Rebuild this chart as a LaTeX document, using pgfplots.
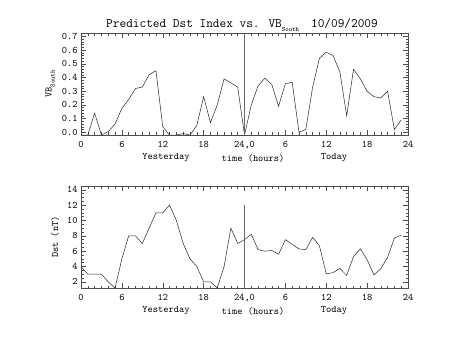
\documentclass[border=0pt]{standalone}
\usepackage{pgfplots}
\pgfplotsset{compat=1.18}

\pgfplotstableread{
x y
0 -0.02
1 -0.02
2 0.14
3 -0.02
4 0.005
5 0.06
6 0.175
7 0.24
8 0.32
9 0.33
10 0.42
11 0.45
12 0.04
13 -0.02
14 -0.02
15 -0.01
16 -0.02
17 0.05
18 0.26
19 0.07
20 0.2
21 0.39
22 0.36
23 0.33
24 -0.02
25 0.2
26 0.34
27 0.395
28 0.35
29 0.19
30 0.355
31 0.365
32 0.0
33 0.02
34 0.33
35 0.54
36 0.585
37 0.56
38 0.44
39 0.12
40 0.46
41 0.39
42 0.3
43 0.26
44 0.25
45 0.3
46 0.02
47 0.09
}\vbtable

\pgfplotstableread{
x y
0 4
1 3
2 3
3 3
4 2
5 1.2
6 5
7 8
8 8
9 7
10 9
11 11
12 11
13 12
14 10
15 7
16 5
17 4
18 2
19 2
20 1.2
21 4
22 9
23 7
24 7.5
25 8.2
26 6.2
27 6
28 6.1
29 5.6
30 7.5
31 6.9
32 6.3
33 6.2
34 7.8
35 6.7
36 3.05
37 3.2
38 3.75
39 2.85
40 5.3
41 6.3
42 4.9
43 2.9
44 3.7
45 5.2
46 7.7
47 8.1
}\dsttable

\newcommand{\lab}{\ttfamily\fontsize{10}{12}\selectfont}
\newcommand{\sub}[1]{\raisebox{-0.7ex}{\ttfamily\fontsize{6.5}{7}\selectfont #1}}

\pgfplotsset{
  idl/.style={
    scale only axis, width=327bp, height=102bp,
    anchor=south west,
    xmin=0, xmax=48,
    xtick={0,6,12,18,24,30,36,42,48},
    xticklabels={0,6,12,18,{24,0},6,12,18,24},
    minor x tick num=5,
    tick align=inside,
    major tick length=5bp, minor tick length=2.5bp,
    axis line style={black!70, line width=0.5pt},
    every tick/.style={black!70, line width=0.4pt},
    ticklabel style={font=\lab},
    xticklabel style={yshift=-2.5bp},
    /pgf/number format/assume math mode=true,
    xtick pos=both, ytick pos=both,
    xticklabel pos=lower, yticklabel pos=left,
  }
}

\begin{document}
\begin{tikzpicture}[x=1bp,y=1bp]
\useasboundingbox (0,0) rectangle (453,340);

\begin{axis}[idl, at={(81bp,205bp)},
  ymin=-0.02, ymax=0.725,
  ytick={0,0.1,0.2,0.3,0.4,0.5,0.6,0.7},
  minor y tick num=4,
  yticklabel style={/pgf/number format/.cd, fixed, fixed zerofill, precision=1},
]
\addplot[black!85, line width=0.5pt] table[x=x,y=y] {\vbtable};
\addplot[black!60, line width=0.5pt] coordinates {(24,-0.02) (24,0.725)};
\end{axis}

\begin{axis}[idl, at={(81bp,52bp)},
  ymin=1.2, ymax=14.5,
  ytick={2,4,6,8,10,12,14},
  minor y tick num=3,
]
\addplot[black!85, line width=0.5pt] table[x=x,y=y] {\dsttable};
\addplot[black!60, line width=0.5pt] coordinates {(24,1.2) (24,12)};
\end{axis}

% titles and labels
\node[font=\ttfamily\fontsize{13}{15}\selectfont] at (242,315) {Predicted Dst Index vs. VB\sub{South}\hspace{12bp}10/09/2009};
\node[rotate=90, font=\lab] at (50,256) {VB\sub{South}};
\node[rotate=90, font=\lab] at (55,103) {Dst (nT)};

\foreach \yy in {182,29} {
  \node[font=\lab] at (166,\yy) {Yesterday};
  \node[font=\lab] at (253,\yy) {time (hours)};
  \node[font=\lab] at (334,\yy) {Today};
}
\end{tikzpicture}
\end{document}
